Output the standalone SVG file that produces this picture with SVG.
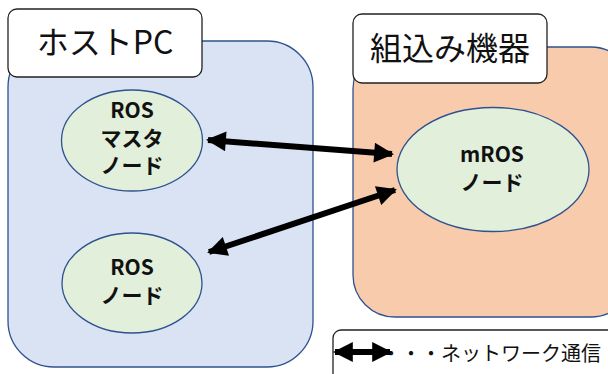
<svg xmlns="http://www.w3.org/2000/svg" width="608" height="374" viewBox="0 0 608 374">
<style>
.grp{stroke:#2f528f;stroke-width:1.3}
.lbl{fill:#fff;stroke:#222;stroke-width:1.3}
.node{fill:#e2efda;stroke:#2f528f;stroke-width:1.3}
.t{font-family:"Noto Sans CJK JP","Noto Sans",sans-serif;fill:#111}
.big{font-size:32px}
.nt{font-size:21px;font-weight:bold;text-anchor:middle}
.conn{stroke:#000;stroke-width:6;fill:none}
</style>
<defs>
<marker id="ah" viewBox="0 0 10 10" refX="9" refY="5" markerWidth="3.7" markerHeight="3.3" orient="auto-start-reverse" markerUnits="strokeWidth">
<path d="M0,0 L10,5 L0,10 Z" fill="#000"/>
</marker>
</defs>
<g id="hostpc">
<rect class="grp" x="8" y="41" width="305" height="326" rx="46" fill="#dae3f3"/>
<rect class="lbl" x="8" y="9" width="194" height="68" rx="9"/>
<text class="t big" x="105" y="54" text-anchor="middle">ホストPC</text>
</g>
<g id="embedded">
<rect class="grp" x="353" y="47" width="280" height="270" rx="42" fill="#f8cbad"/>
<rect class="lbl" x="353" y="14" width="194" height="69" rx="9"/>
<text class="t big" x="450" y="60" text-anchor="middle">組込み機器</text>
</g>
<g id="ros-master">
<ellipse class="node" cx="132" cy="140.5" rx="70.5" ry="50.5"/>
<text class="t nt" x="132" y="118">ROS</text>
<text class="t nt" x="132" y="146">マスタ</text>
<text class="t nt" x="132" y="173">ノード</text>
</g>
<g id="ros-node">
<ellipse class="node" cx="132" cy="283" rx="70" ry="50"/>
<text class="t nt" x="132" y="275">ROS</text>
<text class="t nt" x="132" y="303">ノード</text>
</g>
<g id="mros-node">
<ellipse class="node" cx="493" cy="169.5" rx="96" ry="62"/>
<text class="t nt" x="492" y="162">mROS</text>
<text class="t nt" x="492" y="190">ノード</text>
</g>
<g id="connectors">
<line class="conn" x1="208" y1="140" x2="392" y2="154" marker-start="url(#ah)" marker-end="url(#ah)"/>
<line class="conn" x1="209" y1="252" x2="395" y2="190" marker-start="url(#ah)" marker-end="url(#ah)"/>
</g>
<g id="legend">
<rect class="lbl" x="333" y="330" width="300" height="60" rx="8"/>
<text class="t" x="381" y="361" font-size="20">・・・ネットワーク通信</text>
<line class="conn" x1="335" y1="352" x2="390" y2="352" stroke-width="5" marker-start="url(#ah)" marker-end="url(#ah)"/>
</g>
</svg>
